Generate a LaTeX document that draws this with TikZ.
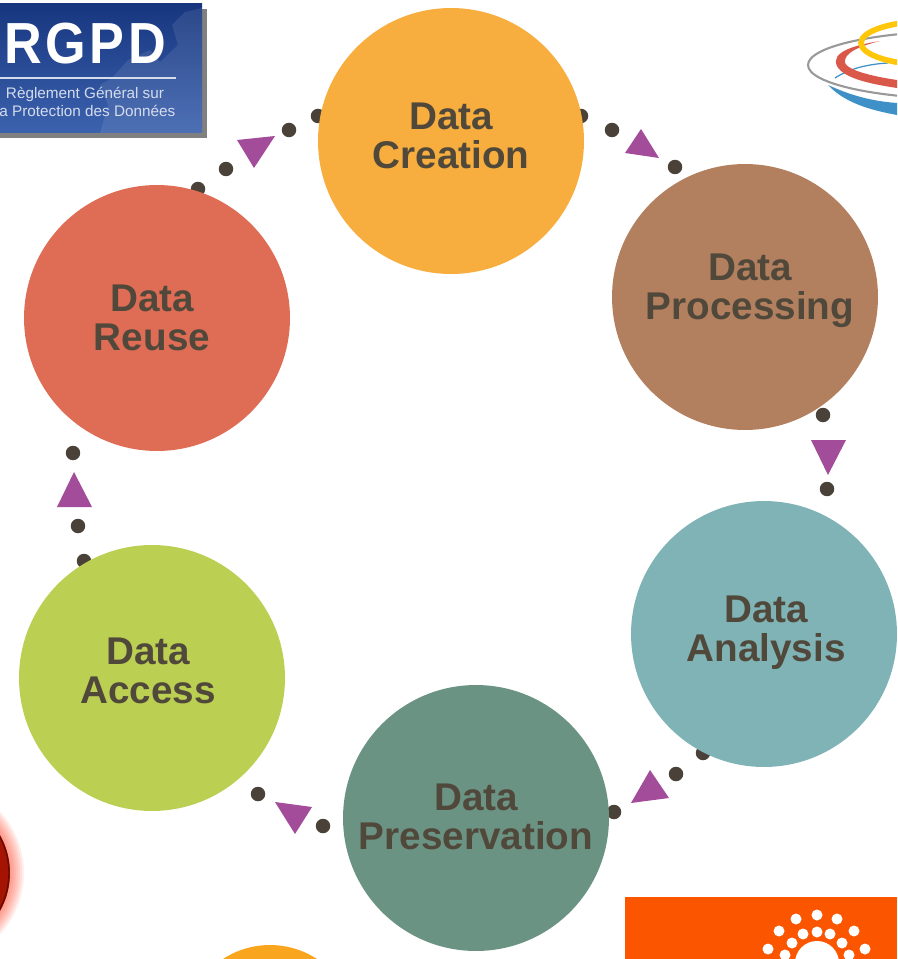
\documentclass[tikz,border=0pt]{standalone}
\usepackage{fontspec}
\setmainfont{Liberation Sans}
\definecolor{TextInk}{HTML}{50483A}
\definecolor{DotInk}{HTML}{4A4238}
\definecolor{TriInk}{HTML}{A24C9A}
\definecolor{CreationFill}{HTML}{F7AE3E}
\definecolor{ProcessingFill}{HTML}{B3805F}
\definecolor{AnalysisFill}{HTML}{7FB3B5}
\definecolor{PreservationFill}{HTML}{6B9384}
\definecolor{AccessFill}{HTML}{BBCF52}
\definecolor{ReuseFill}{HTML}{DF6D55}
\definecolor{LogoBlueTop}{HTML}{17367F}
\definecolor{LogoBlueLow}{HTML}{3C62AE}
\definecolor{LogoText}{HTML}{D5DCEC}
\definecolor{SunOrange}{HTML}{FB5500}
\definecolor{RingYellow}{HTML}{FFC60A}
\definecolor{RingRed}{HTML}{D9584A}
\definecolor{RingBlue}{HTML}{3E90C6}
\definecolor{BallRed}{HTML}{A51403}
\definecolor{DiscOrange}{HTML}{F9A51E}
\tikzset{
    stage/.style={circle,minimum size=5.32cm,inner sep=0pt},
    stagetext/.style={align=center,text=TextInk,inner sep=0pt,
        font=\fontsize{22}{22.2}\selectfont\bfseries},
    dotnode/.style={circle,fill=DotInk,minimum size=0.29cm,inner sep=0pt},
    sundot/.style={circle,fill=white,minimum size=0.22cm,inner sep=0pt},
    logotext/.style={text=LogoText,inner sep=0pt,font=\fontsize{8.7}{9}\selectfont},
}
\newcommand\CycleTri[3]{%
    \fill[TriInk] (#1) -- (#2) -- (#3) -- cycle;
}
\begin{document}
\begin{tikzpicture}[x=0.02cm,y=-0.02cm]
    \useasboundingbox (0,0) rectangle (897,959);
    \clip (0,0) rectangle (897,959);
    % small dots, the ones on a rim go under the circles
    \foreach \dotname/\dotpos in {c1/{581,116},c2/{612,130},c3/{675,167},p1/{823,415},p2/{827,489},
        a1/{703,753},a2/{676,774},a3/{614,812},v1/{323,826},v2/{258,794},
        s1/{84,561},s2/{78,526},s3/{73,453},r1/{198,189},r2/{226,169},r3/{289,130},r4/{318,116}}
    {
        \node[dotnode] (\dotname) at (\dotpos) {};
    }
    % the six stages
    \node[stage,fill=CreationFill] (creation) at (451,141) {};
    \node[stage,fill=ProcessingFill] (processing) at (745,297) {};
    \node[stage,fill=AnalysisFill] (analysis) at (764,634) {};
    \node[stage,fill=PreservationFill] (preservation) at (476,818) {};
    \node[stage,fill=AccessFill] (access) at (152,678) {};
    \node[stage,fill=ReuseFill] (reuse) at (157,318) {};
    \node[stagetext] (creationtext) at (451,136) {Data\\Creation};
    \node[stagetext] (processingtext) at (750,291) {Data\\Processing};
    \node[stagetext] (analysistext) at (766,633) {Data\\Analysis};
    \node[stagetext] (preservationtext) at (476,817) {Data\\Preservation};
    \node[stagetext] (accesstext) at (148,671) {Data\\Access};
    \node[stagetext] (reusetext) at (152,318) {Data\\Reuse};
    % triangles between the stages
    \CycleTri{641,129}{625,153}{659,158}
    \CycleTri{811,440}{846,440}{828,475}
    \CycleTri{650,770}{631,803}{669,798}
    \CycleTri{275,802}{312,807}{295,834}
    \CycleTri{57,507}{92,507}{74,472}
    \CycleTri{237,140}{275,136}{254,168}
    % RGPD logo
    \fill[gray] (-5,9) rectangle (207,138);
    \shade[top color=LogoBlueTop,bottom color=LogoBlueLow] (-5,4) rectangle (202,133);
    \fill[white,opacity=0.09] (202,8) -- (185,12) -- (172,25) -- (178,45) -- (160,62) -- (150,50)
        -- (128,60) -- (112,78) -- (100,85) -- (108,105) -- (100,133) -- (202,133) -- cycle;
    \node[text=white,xscale=0.9,font=\fontsize{33}{33}\selectfont\bfseries\addfontfeature{LetterSpace=7}] (rgpdname) at (85,44) {RGPD};
    \draw[LogoText,line width=0.6pt] (0,78) -- (176,78);
    \node[logotext] (rgpdline1) at (85,94) {Règlement Général sur};
    \node[logotext,anchor=west] (rgpdline2) at (-1,111) {a Protection des Données};
    % ring logo, top right
    \fill[RingBlue] (828,85) .. controls (845,103) and (870,110) .. (897,115) -- (897,103)
        .. controls (870,101) and (850,95) .. (828,85) -- cycle;
    \draw[gray!80,line width=1.2pt] (965,65) ellipse (157 and 34);
    \draw[RingBlue,line width=0.7pt] (835,78) .. controls (850,68) and (870,64) .. (888,63);
    \fill[RingRed] (880,41) .. controls (855,45) and (830,52) .. (837,66) .. controls (843,78) and (870,84) .. (897,88)
        -- (897,80) .. controls (870,76) and (848,70) .. (845,63) .. controls (843,53) and (860,46) .. (880,41) -- cycle;
    \draw[RingYellow,line width=3.2pt] (931,43) ellipse (70 and 22);
    % lower left ball with its glow
    \foreach \glowr in {91,89,...,77}
    {
        \fill[red!75!orange,opacity=0.08] (-67,873) circle (\glowr);
    }
    \fill[BallRed] (-67,873) circle (77);
    \draw[BallRed!60!black,line width=0.8pt] (-67,873) circle (76);
    % orange disc at the bottom edge
    \fill[DiscOrange] (270,1031) circle (86);
    % orange logo, lower right
    \fill[SunOrange] (625,897) rectangle (897,959);
    \fill[white] (817,963) circle (22);
    \foreach \sunname/\sunpos in {i1/{817,932},i2/{803,934},i3/{830,934},i4/{792,943},i5/{842,943},i6/{785,955},i7/{849,955},
        o1/{817,915},o2/{796,919},o3/{837,919},o4/{779,931},o5/{854,931},o6/{768,949},o7/{865,949}}
    {
        \node[sundot] (\sunname) at (\sunpos) {};
    }
\end{tikzpicture}
\end{document}
